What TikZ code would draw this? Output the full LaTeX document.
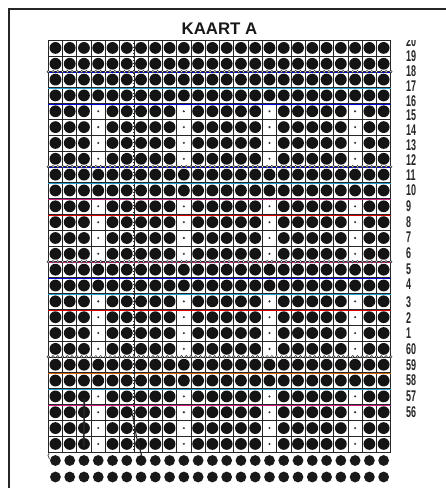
\documentclass[tikz,border=0pt]{standalone}
\usepackage{fontspec}
\setmainfont{Liberation Sans}
\newfontfamily\labelfont[FakeStretch=0.58]{Liberation Sans Bold}
\begin{document}
\begin{tikzpicture}[x=1bp,y=-1bp]
\tikzset{
  frame/.style={line width=2.2bp, black!85},
  vline/.style={line width=0.7bp, black!85},
  hline/.style={line width=1.0bp},
  hole/.style={fill=black!92},
  blank/.style={fill=black!80},
  feed/.style={fill=black!90},
  chainring/.style={line width=0.5bp, draw=black!85, fill=white},
  vdots/.style={line width=1.2bp, black!85, dash pattern=on 1.1bp off 2.2bp},
  penmark/.style={line width=1.6bp, black!85, line cap=round},
  lab/.style={font=\labelfont\fontsize{15.5bp}{16bp}\selectfont, text=black!85, inner sep=0pt, anchor=west},
  ttl/.style={font=\bfseries\fontsize{16.8bp}{18bp}\selectfont, text=black!90, inner sep=0pt}
}
\def\gx{48.3}\def\cw{14.27}\def\gy{40}\def\rh{15.84}
\useasboundingbox (0,0) rectangle (446,488);
\fill[white] (0,0) rectangle (446,488);
% frame
\draw[frame] (7.6,9) -- (446,9);
\draw[frame] (8.7,8) -- (8.7,488);
% title
\node[ttl] (title) at (219.5,28.5) {KAART A};
% vertical grid lines
\foreach \c in {0,...,24}{
  \pgfmathsetmacro\xx{\gx+\c*\cw}
  \draw[vline] (\xx,\gy) -- (\xx,\gy+26*\rh);
}
% horizontal grid lines (scan-coloured)
\foreach \j/\hc in {0/violet,1/red,2/blue,3/cyan,4/blue,5/magenta,6/orange,7/violet,
  8/blue,9/cyan,10/magenta,11/red,12/orange,13/blue,14/magenta,15/blue,16/cyan,
  17/red,18/magenta,19/cyan,20/blue,21/orange,22/cyan,23/magenta,24/orange,25/red,26/cyan}{
  \pgfmathsetmacro\yy{\gy+\j*\rh}
  \draw[hline, \hc!85!black] (\gx,\yy+0.8) -- (\gx+24*\cw,\yy+0.8);
  \draw[line width=0.6bp, black!85] (\gx,\yy) -- (\gx+24*\cw,\yy);
}
% holes
\foreach \r/\p in {1/0,2/0,3/0,4/0,5/1,6/1,7/1,8/1,9/0,10/0,11/1,12/1,13/1,14/1,
  15/0,16/0,17/1,18/1,19/1,20/1,21/0,22/0,23/1,24/1,25/1,26/1}{
  \foreach \c in {1,...,24}{
    \pgfmathsetmacro\xx{\gx+(\c-0.5)*\cw}
    \pgfmathsetmacro\yy{\gy+(\r-0.5)*\rh}
    \pgfmathtruncatemacro\isdot{and(\p==1,mod(\c,6)==4)}
    \ifnum\isdot=1
      \fill[blank] (\xx,\yy) circle (1.15);
    \else
      \fill[hole] (\xx,\yy) circle (5.9);
    \fi
  }
}
% feed holes below the grid
\foreach \c in {1,...,24}{
  \pgfmathsetmacro\xx{\gx+(\c-0.5)*\cw}
  \fill[feed] (\xx,460.5) circle (5.4);
  \fill[feed] (\xx,477) circle (5.4);
}
% vertical dotted repeat lines
\foreach \c in {6,12,18}{
  \pgfmathsetmacro\xx{\gx+\c*\cw}
  \draw[vdots] (\xx,\gy) -- (\xx,\gy+26*\rh);
}
% horizontal chain lines
\foreach \j in {2,8,14,20}{
  \pgfmathsetmacro\yy{\gy+\j*\rh}
  \foreach \k in {0,...,72}{
    \draw[chainring] (\gx+\k*\cw/3,\yy) circle (1.3);
  }
}
% pen marks
\draw[penmark] (84.3,399) -- (83.8,446);
\draw[penmark, line width=1.1bp] (132.5,414) -- (136.5,437) -- (141.5,455);
\draw[line width=0.7bp, black!80] (49.5,452) .. controls (47.5,454) and (47.5,457) .. (49.5,459);
% row labels
\begin{scope}
\clip (398,40.6) rectangle (440,488);
\foreach \t/\yy in {20/41,19/56.5,18/71.5,17/86.5,16/101,15/115.5,14/130.5,13/145.5,12/160.5,
  11/175.5,10/190.5,9/206,8/222,7/237.5,6/253,5/269,4/284.5,3/302,2/318,1/333,
  60/349,59/365,58/380.5,57/396,56/412}{
  \node[lab] (l\t) at (406,\yy) {\t};
}
\end{scope}
\end{tikzpicture}
\end{document}
